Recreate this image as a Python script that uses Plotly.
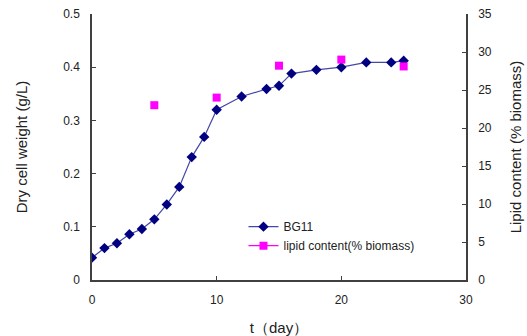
import plotly.graph_objects as go

# Biomass growth in BG11 medium (dry cell weight, g/L)
days = [0, 1, 2, 3, 4, 5, 6, 7, 8, 9, 10, 12, 14, 15, 16, 18, 20, 22, 24, 25]
dcw = [0.042, 0.060, 0.069, 0.086, 0.096, 0.114, 0.142, 0.175, 0.231, 0.269,
       0.320, 0.345, 0.359, 0.365, 0.388, 0.395, 0.400, 0.409, 0.409, 0.412]

# Lipid content (% of biomass)
lipid_days = [5, 10, 15, 20, 25]
lipid_pct = [23.0, 24.0, 28.2, 29.0, 28.1]

# Interleave gaps so the markers stay unconnected while the legend keeps its line
lip_x, lip_y = [], []
for d, v in zip(lipid_days, lipid_pct):
    lip_x += [d, None]
    lip_y += [v, None]

font_family = "Liberation Sans, Arial, sans-serif"
axis_color = "#404040"

fig = go.Figure()
fig.add_trace(go.Scatter(
    x=days, y=dcw, name="BG11", mode="lines+markers",
    line=dict(color="#4646a8", width=1.2),
    marker=dict(symbol="diamond", size=8, color="#000080"),
))
fig.add_trace(go.Scatter(
    x=lip_x, y=lip_y, name="lipid content(% biomass)", mode="lines+markers",
    yaxis="y2", connectgaps=False,
    line=dict(color="#ff00ff", width=1.2),
    marker=dict(symbol="square", size=8, color="#ff00ff"),
))

fig.update_layout(
    width=527, height=336,
    margin=dict(l=92, r=61, t=14, b=56),
    paper_bgcolor="white", plot_bgcolor="white",
    font=dict(family=font_family, size=12, color="#222222"),
    showlegend=True,
    legend=dict(x=0.405, y=0.255, xanchor="left", yanchor="top",
                bgcolor="rgba(0,0,0,0)", itemwidth=30, tracegroupgap=7,
                font=dict(size=12)),
    xaxis=dict(range=[0, 30], tickvals=[0, 10, 20, 30], showgrid=False,
               zeroline=False, showline=True, linecolor=axis_color, linewidth=1.5,
               ticks="inside", ticklen=4, tickcolor=axis_color,
               ticklabelstandoff=8, automargin=False,
               title=dict(text="t（day）", font=dict(size=15), standoff=17)),
    yaxis=dict(range=[0, 0.5], tickvals=[0, 0.1, 0.2, 0.3, 0.4, 0.5],
               ticktext=["0", "0.1", "0.2", "0.3", "0.4", "0.5"],
               showgrid=False, zeroline=False, showline=True,
               linecolor=axis_color, linewidth=1.5,
               ticks="inside", ticklen=4, tickcolor=axis_color,
               ticklabelstandoff=8, automargin=False,
               title=dict(text="Dry cell weight (g/L)", font=dict(size=15), standoff=32)),
    yaxis2=dict(range=[0, 35], tickvals=[0, 5, 10, 15, 20, 25, 30, 35],
                overlaying="y", side="right", showgrid=False, zeroline=False,
                showline=True, linecolor=axis_color, linewidth=1.5,
                ticks="inside", ticklen=4, tickcolor=axis_color,
                ticklabelstandoff=8, automargin=False,
                title=dict(text="Lipid content (% biomass)", font=dict(size=15), standoff=20)),
)

fig.write_html("out.html")
